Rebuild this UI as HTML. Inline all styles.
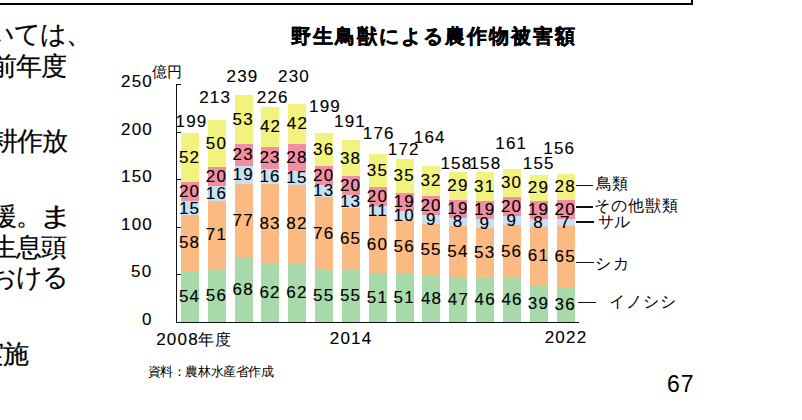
<!DOCTYPE html><html><head><meta charset="utf-8"><style>
html,body{margin:0;padding:0;background:#fff;width:802px;height:420px;overflow:hidden;position:relative}
body{font-family:"Liberation Sans",sans-serif}
.t{position:absolute;white-space:nowrap;line-height:30px}
.r{position:absolute}
</style></head><body>
<div class="r" style="left:-10px;top:-60px;width:703px;height:65px;box-sizing:border-box;border:2px solid #000"></div>
<div class="r" style="left:180.97px;top:270.59px;width:17.89px;height:51.41px;background:#a8d9ab"></div>
<div class="r" style="left:180.97px;top:215.38px;width:17.89px;height:55.22px;background:#fbba82"></div>
<div class="r" style="left:180.97px;top:201.10px;width:17.89px;height:14.28px;background:#c6e0f5"></div>
<div class="r" style="left:180.97px;top:182.06px;width:17.89px;height:19.04px;background:#f18ea1"></div>
<div class="r" style="left:180.97px;top:132.70px;width:17.89px;height:49.36px;background:#f2f37f"></div>
<div class="r" style="left:207.81px;top:268.69px;width:17.89px;height:53.31px;background:#a8d9ab"></div>
<div class="r" style="left:207.81px;top:201.10px;width:17.89px;height:67.59px;background:#fbba82"></div>
<div class="r" style="left:207.81px;top:185.86px;width:17.89px;height:15.23px;background:#c6e0f5"></div>
<div class="r" style="left:207.81px;top:166.82px;width:17.89px;height:19.04px;background:#f18ea1"></div>
<div class="r" style="left:207.81px;top:119.90px;width:17.89px;height:46.92px;background:#f2f37f"></div>
<div class="r" style="left:234.64px;top:257.26px;width:17.89px;height:64.74px;background:#a8d9ab"></div>
<div class="r" style="left:234.64px;top:183.96px;width:17.89px;height:73.30px;background:#fbba82"></div>
<div class="r" style="left:234.64px;top:165.87px;width:17.89px;height:18.09px;background:#c6e0f5"></div>
<div class="r" style="left:234.64px;top:143.98px;width:17.89px;height:21.90px;background:#f18ea1"></div>
<div class="r" style="left:234.64px;top:94.80px;width:17.89px;height:49.18px;background:#f2f37f"></div>
<div class="r" style="left:261.47px;top:262.98px;width:17.89px;height:59.02px;background:#a8d9ab"></div>
<div class="r" style="left:261.47px;top:183.96px;width:17.89px;height:79.02px;background:#fbba82"></div>
<div class="r" style="left:261.47px;top:168.73px;width:17.89px;height:15.23px;background:#c6e0f5"></div>
<div class="r" style="left:261.47px;top:146.83px;width:17.89px;height:21.90px;background:#f18ea1"></div>
<div class="r" style="left:261.47px;top:107.10px;width:17.89px;height:39.73px;background:#f2f37f"></div>
<div class="r" style="left:288.31px;top:262.98px;width:17.89px;height:59.02px;background:#a8d9ab"></div>
<div class="r" style="left:288.31px;top:184.91px;width:17.89px;height:78.06px;background:#fbba82"></div>
<div class="r" style="left:288.31px;top:170.63px;width:17.89px;height:14.28px;background:#c6e0f5"></div>
<div class="r" style="left:288.31px;top:143.98px;width:17.89px;height:26.66px;background:#f18ea1"></div>
<div class="r" style="left:288.31px;top:104.00px;width:17.89px;height:39.98px;background:#f2f37f"></div>
<div class="r" style="left:315.14px;top:269.64px;width:17.89px;height:52.36px;background:#a8d9ab"></div>
<div class="r" style="left:315.14px;top:197.29px;width:17.89px;height:72.35px;background:#fbba82"></div>
<div class="r" style="left:315.14px;top:184.91px;width:17.89px;height:12.38px;background:#c6e0f5"></div>
<div class="r" style="left:315.14px;top:165.87px;width:17.89px;height:19.04px;background:#f18ea1"></div>
<div class="r" style="left:315.14px;top:132.80px;width:17.89px;height:33.07px;background:#f2f37f"></div>
<div class="r" style="left:341.97px;top:269.64px;width:17.89px;height:52.36px;background:#a8d9ab"></div>
<div class="r" style="left:341.97px;top:207.76px;width:17.89px;height:61.88px;background:#fbba82"></div>
<div class="r" style="left:341.97px;top:195.38px;width:17.89px;height:12.38px;background:#c6e0f5"></div>
<div class="r" style="left:341.97px;top:176.34px;width:17.89px;height:19.04px;background:#f18ea1"></div>
<div class="r" style="left:341.97px;top:140.30px;width:17.89px;height:36.04px;background:#f2f37f"></div>
<div class="r" style="left:368.81px;top:273.45px;width:17.89px;height:48.55px;background:#a8d9ab"></div>
<div class="r" style="left:368.81px;top:216.33px;width:17.89px;height:57.12px;background:#fbba82"></div>
<div class="r" style="left:368.81px;top:205.86px;width:17.89px;height:10.47px;background:#c6e0f5"></div>
<div class="r" style="left:368.81px;top:186.82px;width:17.89px;height:19.04px;background:#f18ea1"></div>
<div class="r" style="left:368.81px;top:154.30px;width:17.89px;height:32.52px;background:#f2f37f"></div>
<div class="r" style="left:395.64px;top:273.45px;width:17.89px;height:48.55px;background:#a8d9ab"></div>
<div class="r" style="left:395.64px;top:220.14px;width:17.89px;height:53.31px;background:#fbba82"></div>
<div class="r" style="left:395.64px;top:210.62px;width:17.89px;height:9.52px;background:#c6e0f5"></div>
<div class="r" style="left:395.64px;top:192.53px;width:17.89px;height:18.09px;background:#f18ea1"></div>
<div class="r" style="left:395.64px;top:159.30px;width:17.89px;height:33.23px;background:#f2f37f"></div>
<div class="r" style="left:422.47px;top:276.30px;width:17.89px;height:45.70px;background:#a8d9ab"></div>
<div class="r" style="left:422.47px;top:223.94px;width:17.89px;height:52.36px;background:#fbba82"></div>
<div class="r" style="left:422.47px;top:215.38px;width:17.89px;height:8.57px;background:#c6e0f5"></div>
<div class="r" style="left:422.47px;top:196.34px;width:17.89px;height:19.04px;background:#f18ea1"></div>
<div class="r" style="left:422.47px;top:165.80px;width:17.89px;height:30.54px;background:#f2f37f"></div>
<div class="r" style="left:449.31px;top:277.26px;width:17.89px;height:44.74px;background:#a8d9ab"></div>
<div class="r" style="left:449.31px;top:225.85px;width:17.89px;height:51.41px;background:#fbba82"></div>
<div class="r" style="left:449.31px;top:218.23px;width:17.89px;height:7.62px;background:#c6e0f5"></div>
<div class="r" style="left:449.31px;top:200.14px;width:17.89px;height:18.09px;background:#f18ea1"></div>
<div class="r" style="left:449.31px;top:172.20px;width:17.89px;height:27.94px;background:#f2f37f"></div>
<div class="r" style="left:476.14px;top:278.21px;width:17.89px;height:43.79px;background:#a8d9ab"></div>
<div class="r" style="left:476.14px;top:227.75px;width:17.89px;height:50.46px;background:#fbba82"></div>
<div class="r" style="left:476.14px;top:219.18px;width:17.89px;height:8.57px;background:#c6e0f5"></div>
<div class="r" style="left:476.14px;top:201.10px;width:17.89px;height:18.09px;background:#f18ea1"></div>
<div class="r" style="left:476.14px;top:172.20px;width:17.89px;height:28.90px;background:#f2f37f"></div>
<div class="r" style="left:502.97px;top:278.21px;width:17.89px;height:43.79px;background:#a8d9ab"></div>
<div class="r" style="left:502.97px;top:224.90px;width:17.89px;height:53.31px;background:#fbba82"></div>
<div class="r" style="left:502.97px;top:216.33px;width:17.89px;height:8.57px;background:#c6e0f5"></div>
<div class="r" style="left:502.97px;top:197.29px;width:17.89px;height:19.04px;background:#f18ea1"></div>
<div class="r" style="left:502.97px;top:169.00px;width:17.89px;height:28.29px;background:#f2f37f"></div>
<div class="r" style="left:529.81px;top:284.87px;width:17.89px;height:37.13px;background:#a8d9ab"></div>
<div class="r" style="left:529.81px;top:226.80px;width:17.89px;height:58.07px;background:#fbba82"></div>
<div class="r" style="left:529.81px;top:219.18px;width:17.89px;height:7.62px;background:#c6e0f5"></div>
<div class="r" style="left:529.81px;top:201.10px;width:17.89px;height:18.09px;background:#f18ea1"></div>
<div class="r" style="left:529.81px;top:175.00px;width:17.89px;height:26.10px;background:#f2f37f"></div>
<div class="r" style="left:556.64px;top:287.73px;width:17.89px;height:34.27px;background:#a8d9ab"></div>
<div class="r" style="left:556.64px;top:225.85px;width:17.89px;height:61.88px;background:#fbba82"></div>
<div class="r" style="left:556.64px;top:219.18px;width:17.89px;height:6.66px;background:#c6e0f5"></div>
<div class="r" style="left:556.64px;top:200.14px;width:17.89px;height:19.04px;background:#f18ea1"></div>
<div class="r" style="left:556.64px;top:174.10px;width:17.89px;height:26.04px;background:#f2f37f"></div>
<div class="r" style="left:176px;top:84px;width:1px;height:239px;background:#111"></div>
<div class="r" style="left:176px;top:322px;width:403px;height:1px;background:#111"></div>
<div class="r" style="left:176px;top:84px;width:5px;height:1px;background:#111"></div>
<div class="r" style="left:176px;top:132px;width:5px;height:1px;background:#111"></div>
<div class="r" style="left:176px;top:179px;width:5px;height:1px;background:#111"></div>
<div class="r" style="left:176px;top:227px;width:5px;height:1px;background:#111"></div>
<div class="r" style="left:176px;top:274px;width:5px;height:1px;background:#111"></div>
<div class="r" style="left:575.5px;top:185px;width:17.2px;height:1px;background:#111"></div>
<div class="r" style="left:575.5px;top:206px;width:17.4px;height:2px;background:#111"></div>
<div class="r" style="left:576px;top:221px;width:17.8px;height:2px;background:#111"></div>
<div class="r" style="left:576.3px;top:262px;width:17.9px;height:1px;background:#111"></div>
<div class="r" style="left:578px;top:301.5px;width:17.8px;height:1px;background:#111"></div>
<div class="t" style="left:-64.40px;top:19.30px;font-size:26px;letter-spacing:-1px;-webkit-text-stroke:0.2px;color:#000">については、</div>
<div class="t" style="left:-34.90px;top:51.00px;font-size:26px;letter-spacing:-1px;-webkit-text-stroke:0.2px;color:#000">の前年度</div>
<div class="t" style="left:-8.30px;top:126.10px;font-size:26px;letter-spacing:-1px;-webkit-text-stroke:0.2px;color:#000">耕作放</div>
<div class="t" style="left:-9.00px;top:201.00px;font-size:26px;letter-spacing:-1px;-webkit-text-stroke:0.2px;color:#000">援。</div>
<div class="t" style="left:42.70px;top:201.00px;font-size:26px;letter-spacing:-1px;-webkit-text-stroke:0.2px;display:inline-block;transform:scaleX(1.36);color:#000">ま</div>
<div class="t" style="left:-8.60px;top:232.30px;font-size:26px;letter-spacing:-1px;-webkit-text-stroke:0.2px;color:#000">生息頭</div>
<div class="t" style="left:-10.00px;top:262.00px;font-size:26px;letter-spacing:-1px;-webkit-text-stroke:0.2px;color:#000">おける</div>
<div class="t" style="left:-21.80px;top:338.80px;font-size:26px;letter-spacing:-1px;-webkit-text-stroke:0.2px;color:#000">実施</div>
<div class="t" style="left:290.60px;top:20.80px;font-size:20px;font-weight:bold;letter-spacing:2.0px;-webkit-text-stroke:0.4px;color:#000">野生鳥獣による農作物被害額</div>
<div class="t" style="left:121.00px;top:66.50px;font-size:17px;letter-spacing:1.2px;-webkit-text-stroke:0.12px;color:#000">250</div>
<div class="t" style="left:121.00px;top:114.50px;font-size:17px;letter-spacing:1.2px;-webkit-text-stroke:0.12px;color:#000">200</div>
<div class="t" style="left:121.00px;top:161.50px;font-size:17px;letter-spacing:1.2px;-webkit-text-stroke:0.12px;color:#000">150</div>
<div class="t" style="left:121.00px;top:209.50px;font-size:17px;letter-spacing:1.2px;-webkit-text-stroke:0.12px;color:#000">100</div>
<div class="t" style="left:131.00px;top:256.50px;font-size:17px;letter-spacing:1.2px;-webkit-text-stroke:0.12px;color:#000">50</div>
<div class="t" style="left:142.00px;top:304.50px;font-size:17px;letter-spacing:1.2px;-webkit-text-stroke:0.12px;color:#000">0</div>
<div class="t" style="left:152.30px;top:57.00px;font-size:15px;color:#000">億円</div>
<div class="t" style="left:175.50px;top:106.90px;font-size:17px;letter-spacing:1.2px;-webkit-text-stroke:0.12px;color:#000">199</div>
<div class="t" style="left:199.20px;top:83.00px;font-size:17px;letter-spacing:1.2px;-webkit-text-stroke:0.12px;color:#000">213</div>
<div class="t" style="left:226.50px;top:62.00px;font-size:17px;letter-spacing:1.2px;-webkit-text-stroke:0.12px;color:#000">239</div>
<div class="t" style="left:256.80px;top:83.00px;font-size:17px;letter-spacing:1.2px;-webkit-text-stroke:0.12px;color:#000">226</div>
<div class="t" style="left:278.00px;top:62.00px;font-size:17px;letter-spacing:1.2px;-webkit-text-stroke:0.12px;color:#000">230</div>
<div class="t" style="left:309.00px;top:92.00px;font-size:17px;letter-spacing:1.2px;-webkit-text-stroke:0.12px;color:#000">199</div>
<div class="t" style="left:334.00px;top:107.00px;font-size:17px;letter-spacing:1.2px;-webkit-text-stroke:0.12px;color:#000">191</div>
<div class="t" style="left:362.80px;top:118.50px;font-size:17px;letter-spacing:1.2px;-webkit-text-stroke:0.12px;color:#000">176</div>
<div class="t" style="left:387.80px;top:134.50px;font-size:17px;letter-spacing:1.2px;-webkit-text-stroke:0.12px;color:#000">172</div>
<div class="t" style="left:413.80px;top:122.90px;font-size:17px;letter-spacing:1.2px;-webkit-text-stroke:0.12px;color:#000">164</div>
<div class="t" style="left:440.40px;top:148.50px;font-size:17px;letter-spacing:1.2px;-webkit-text-stroke:0.12px;color:#000">158</div>
<div class="t" style="left:469.40px;top:148.50px;font-size:17px;letter-spacing:1.2px;-webkit-text-stroke:0.12px;color:#000">158</div>
<div class="t" style="left:495.30px;top:129.00px;font-size:17px;letter-spacing:1.2px;-webkit-text-stroke:0.12px;color:#000">161</div>
<div class="t" style="left:522.80px;top:148.90px;font-size:17px;letter-spacing:1.2px;-webkit-text-stroke:0.12px;color:#000">155</div>
<div class="t" style="left:543.30px;top:134.00px;font-size:17px;letter-spacing:1.2px;-webkit-text-stroke:0.12px;color:#000">156</div>
<div class="t" style="left:178.92px;top:281.60px;font-size:17px;letter-spacing:1.2px;-webkit-text-stroke:0.12px;color:#000">54</div>
<div class="t" style="left:178.92px;top:228.28px;font-size:17px;letter-spacing:1.2px;-webkit-text-stroke:0.12px;color:#000">58</div>
<div class="t" style="left:178.92px;top:193.54px;font-size:17px;letter-spacing:1.2px;-webkit-text-stroke:0.12px;color:#000">15</div>
<div class="t" style="left:178.92px;top:176.88px;font-size:17px;letter-spacing:1.2px;-webkit-text-stroke:0.12px;color:#000">20</div>
<div class="t" style="left:178.92px;top:142.68px;font-size:17px;letter-spacing:1.2px;-webkit-text-stroke:0.12px;color:#000">52</div>
<div class="t" style="left:205.75px;top:280.64px;font-size:17px;letter-spacing:1.2px;-webkit-text-stroke:0.12px;color:#000">56</div>
<div class="t" style="left:205.75px;top:220.19px;font-size:17px;letter-spacing:1.2px;-webkit-text-stroke:0.12px;color:#000">71</div>
<div class="t" style="left:205.75px;top:178.78px;font-size:17px;letter-spacing:1.2px;-webkit-text-stroke:0.12px;color:#000">16</div>
<div class="t" style="left:205.75px;top:161.64px;font-size:17px;letter-spacing:1.2px;-webkit-text-stroke:0.12px;color:#000">20</div>
<div class="t" style="left:205.75px;top:128.66px;font-size:17px;letter-spacing:1.2px;-webkit-text-stroke:0.12px;color:#000">50</div>
<div class="t" style="left:232.58px;top:274.93px;font-size:17px;letter-spacing:1.2px;-webkit-text-stroke:0.12px;color:#000">68</div>
<div class="t" style="left:232.58px;top:205.91px;font-size:17px;letter-spacing:1.2px;-webkit-text-stroke:0.12px;color:#000">77</div>
<div class="t" style="left:232.58px;top:160.22px;font-size:17px;letter-spacing:1.2px;-webkit-text-stroke:0.12px;color:#000">19</div>
<div class="t" style="left:232.58px;top:140.22px;font-size:17px;letter-spacing:1.2px;-webkit-text-stroke:0.12px;color:#000">23</div>
<div class="t" style="left:232.58px;top:104.69px;font-size:17px;letter-spacing:1.2px;-webkit-text-stroke:0.12px;color:#000">53</div>
<div class="t" style="left:259.42px;top:277.79px;font-size:17px;letter-spacing:1.2px;-webkit-text-stroke:0.12px;color:#000">62</div>
<div class="t" style="left:259.42px;top:208.77px;font-size:17px;letter-spacing:1.2px;-webkit-text-stroke:0.12px;color:#000">83</div>
<div class="t" style="left:259.42px;top:161.64px;font-size:17px;letter-spacing:1.2px;-webkit-text-stroke:0.12px;color:#000">16</div>
<div class="t" style="left:259.42px;top:143.08px;font-size:17px;letter-spacing:1.2px;-webkit-text-stroke:0.12px;color:#000">23</div>
<div class="t" style="left:259.92px;top:112.27px;font-size:17px;letter-spacing:1.2px;-webkit-text-stroke:0.12px;color:#000">42</div>
<div class="t" style="left:286.25px;top:277.79px;font-size:17px;letter-spacing:1.2px;-webkit-text-stroke:0.12px;color:#000">62</div>
<div class="t" style="left:286.25px;top:209.24px;font-size:17px;letter-spacing:1.2px;-webkit-text-stroke:0.12px;color:#000">82</div>
<div class="t" style="left:286.25px;top:163.07px;font-size:17px;letter-spacing:1.2px;-webkit-text-stroke:0.12px;color:#000">15</div>
<div class="t" style="left:286.25px;top:142.60px;font-size:17px;letter-spacing:1.2px;-webkit-text-stroke:0.12px;color:#000">28</div>
<div class="t" style="left:286.75px;top:109.29px;font-size:17px;letter-spacing:1.2px;-webkit-text-stroke:0.12px;color:#000">42</div>
<div class="t" style="left:313.08px;top:281.12px;font-size:17px;letter-spacing:1.2px;-webkit-text-stroke:0.12px;color:#000">55</div>
<div class="t" style="left:313.08px;top:218.76px;font-size:17px;letter-spacing:1.2px;-webkit-text-stroke:0.12px;color:#000">76</div>
<div class="t" style="left:313.08px;top:176.40px;font-size:17px;letter-spacing:1.2px;-webkit-text-stroke:0.12px;color:#000">13</div>
<div class="t" style="left:313.08px;top:160.69px;font-size:17px;letter-spacing:1.2px;-webkit-text-stroke:0.12px;color:#000">20</div>
<div class="t" style="left:313.08px;top:134.64px;font-size:17px;letter-spacing:1.2px;-webkit-text-stroke:0.12px;color:#000">36</div>
<div class="t" style="left:339.92px;top:281.12px;font-size:17px;letter-spacing:1.2px;-webkit-text-stroke:0.12px;color:#000">55</div>
<div class="t" style="left:339.92px;top:224.00px;font-size:17px;letter-spacing:1.2px;-webkit-text-stroke:0.12px;color:#000">65</div>
<div class="t" style="left:339.92px;top:186.87px;font-size:17px;letter-spacing:1.2px;-webkit-text-stroke:0.12px;color:#000">13</div>
<div class="t" style="left:339.92px;top:171.16px;font-size:17px;letter-spacing:1.2px;-webkit-text-stroke:0.12px;color:#000">20</div>
<div class="t" style="left:339.92px;top:143.62px;font-size:17px;letter-spacing:1.2px;-webkit-text-stroke:0.12px;color:#000">38</div>
<div class="t" style="left:366.75px;top:283.02px;font-size:17px;letter-spacing:1.2px;-webkit-text-stroke:0.12px;color:#000">51</div>
<div class="t" style="left:366.75px;top:230.19px;font-size:17px;letter-spacing:1.2px;-webkit-text-stroke:0.12px;color:#000">60</div>
<div class="t" style="left:367.75px;top:196.39px;font-size:17px;letter-spacing:1.2px;-webkit-text-stroke:0.12px;color:#000">11</div>
<div class="t" style="left:366.75px;top:181.64px;font-size:17px;letter-spacing:1.2px;-webkit-text-stroke:0.12px;color:#000">20</div>
<div class="t" style="left:366.75px;top:155.86px;font-size:17px;letter-spacing:1.2px;-webkit-text-stroke:0.12px;color:#000">35</div>
<div class="t" style="left:393.58px;top:283.02px;font-size:17px;letter-spacing:1.2px;-webkit-text-stroke:0.12px;color:#000">51</div>
<div class="t" style="left:393.58px;top:232.09px;font-size:17px;letter-spacing:1.2px;-webkit-text-stroke:0.12px;color:#000">56</div>
<div class="t" style="left:393.58px;top:200.68px;font-size:17px;letter-spacing:1.2px;-webkit-text-stroke:0.12px;color:#000">10</div>
<div class="t" style="left:393.58px;top:186.87px;font-size:17px;letter-spacing:1.2px;-webkit-text-stroke:0.12px;color:#000">19</div>
<div class="t" style="left:393.58px;top:161.21px;font-size:17px;letter-spacing:1.2px;-webkit-text-stroke:0.12px;color:#000">35</div>
<div class="t" style="left:420.92px;top:284.45px;font-size:17px;letter-spacing:1.2px;-webkit-text-stroke:0.12px;color:#000">48</div>
<div class="t" style="left:420.42px;top:235.42px;font-size:17px;letter-spacing:1.2px;-webkit-text-stroke:0.12px;color:#000">55</div>
<div class="t" style="left:425.92px;top:204.96px;font-size:17px;letter-spacing:1.2px;-webkit-text-stroke:0.12px;color:#000">9</div>
<div class="t" style="left:420.42px;top:191.16px;font-size:17px;letter-spacing:1.2px;-webkit-text-stroke:0.12px;color:#000">20</div>
<div class="t" style="left:420.42px;top:166.37px;font-size:17px;letter-spacing:1.2px;-webkit-text-stroke:0.12px;color:#000">32</div>
<div class="t" style="left:447.75px;top:284.93px;font-size:17px;letter-spacing:1.2px;-webkit-text-stroke:0.12px;color:#000">47</div>
<div class="t" style="left:447.25px;top:236.85px;font-size:17px;letter-spacing:1.2px;-webkit-text-stroke:0.12px;color:#000">54</div>
<div class="t" style="left:452.75px;top:207.34px;font-size:17px;letter-spacing:1.2px;-webkit-text-stroke:0.12px;color:#000">8</div>
<div class="t" style="left:447.25px;top:194.49px;font-size:17px;letter-spacing:1.2px;-webkit-text-stroke:0.12px;color:#000">19</div>
<div class="t" style="left:447.25px;top:171.47px;font-size:17px;letter-spacing:1.2px;-webkit-text-stroke:0.12px;color:#000">29</div>
<div class="t" style="left:474.58px;top:285.40px;font-size:17px;letter-spacing:1.2px;-webkit-text-stroke:0.12px;color:#000">46</div>
<div class="t" style="left:474.08px;top:238.28px;font-size:17px;letter-spacing:1.2px;-webkit-text-stroke:0.12px;color:#000">53</div>
<div class="t" style="left:479.58px;top:208.77px;font-size:17px;letter-spacing:1.2px;-webkit-text-stroke:0.12px;color:#000">9</div>
<div class="t" style="left:474.08px;top:195.44px;font-size:17px;letter-spacing:1.2px;-webkit-text-stroke:0.12px;color:#000">19</div>
<div class="t" style="left:474.08px;top:171.95px;font-size:17px;letter-spacing:1.2px;-webkit-text-stroke:0.12px;color:#000">31</div>
<div class="t" style="left:501.42px;top:285.40px;font-size:17px;letter-spacing:1.2px;-webkit-text-stroke:0.12px;color:#000">46</div>
<div class="t" style="left:500.92px;top:236.85px;font-size:17px;letter-spacing:1.2px;-webkit-text-stroke:0.12px;color:#000">56</div>
<div class="t" style="left:506.42px;top:205.91px;font-size:17px;letter-spacing:1.2px;-webkit-text-stroke:0.12px;color:#000">9</div>
<div class="t" style="left:500.92px;top:192.11px;font-size:17px;letter-spacing:1.2px;-webkit-text-stroke:0.12px;color:#000">20</div>
<div class="t" style="left:500.92px;top:168.44px;font-size:17px;letter-spacing:1.2px;-webkit-text-stroke:0.12px;color:#000">30</div>
<div class="t" style="left:527.75px;top:288.74px;font-size:17px;letter-spacing:1.2px;-webkit-text-stroke:0.12px;color:#000">39</div>
<div class="t" style="left:527.75px;top:241.14px;font-size:17px;letter-spacing:1.2px;-webkit-text-stroke:0.12px;color:#000">61</div>
<div class="t" style="left:533.25px;top:208.29px;font-size:17px;letter-spacing:1.2px;-webkit-text-stroke:0.12px;color:#000">8</div>
<div class="t" style="left:527.75px;top:195.44px;font-size:17px;letter-spacing:1.2px;-webkit-text-stroke:0.12px;color:#000">19</div>
<div class="t" style="left:527.75px;top:173.35px;font-size:17px;letter-spacing:1.2px;-webkit-text-stroke:0.12px;color:#000">29</div>
<div class="t" style="left:554.58px;top:290.16px;font-size:17px;letter-spacing:1.2px;-webkit-text-stroke:0.12px;color:#000">36</div>
<div class="t" style="left:554.58px;top:242.09px;font-size:17px;letter-spacing:1.2px;-webkit-text-stroke:0.12px;color:#000">65</div>
<div class="t" style="left:560.08px;top:207.82px;font-size:17px;letter-spacing:1.2px;-webkit-text-stroke:0.12px;color:#000">7</div>
<div class="t" style="left:554.58px;top:194.96px;font-size:17px;letter-spacing:1.2px;-webkit-text-stroke:0.12px;color:#000">20</div>
<div class="t" style="left:554.58px;top:172.42px;font-size:17px;letter-spacing:1.2px;-webkit-text-stroke:0.12px;color:#000">28</div>
<div class="t" style="left:156.20px;top:325.20px;font-size:17px;letter-spacing:1.2px;-webkit-text-stroke:0.12px;color:#000">2008</div>
<div class="t" style="left:198.40px;top:324.70px;font-size:16px;letter-spacing:0.5px;color:#000">年度</div>
<div class="t" style="left:329.80px;top:323.70px;font-size:17px;letter-spacing:1.2px;-webkit-text-stroke:0.12px;color:#000">2014</div>
<div class="t" style="left:544.70px;top:323.40px;font-size:17px;letter-spacing:1.2px;-webkit-text-stroke:0.12px;color:#000">2022</div>
<div class="t" style="left:147.70px;top:356.70px;font-size:13px;letter-spacing:-0.4px;color:#000">資料：農林水産省作成</div>
<div class="t" style="left:667.00px;top:369.30px;font-size:23px;letter-spacing:1px;color:#000">67</div>
<div class="t" style="left:595.70px;top:169.30px;font-size:16px;color:#000">鳥類</div>
<div class="t" style="left:593.70px;top:190.70px;font-size:16px;letter-spacing:1px;color:#000">その他獣類</div>
<div class="t" style="left:598.20px;top:206.60px;font-size:16px;color:#000">サル</div>
<div class="t" style="left:594.70px;top:248.50px;font-size:16px;letter-spacing:2px;color:#000">シカ</div>
<div class="t" style="left:608.80px;top:287.00px;font-size:16px;letter-spacing:1px;color:#000">イノシシ</div>
</body></html>
